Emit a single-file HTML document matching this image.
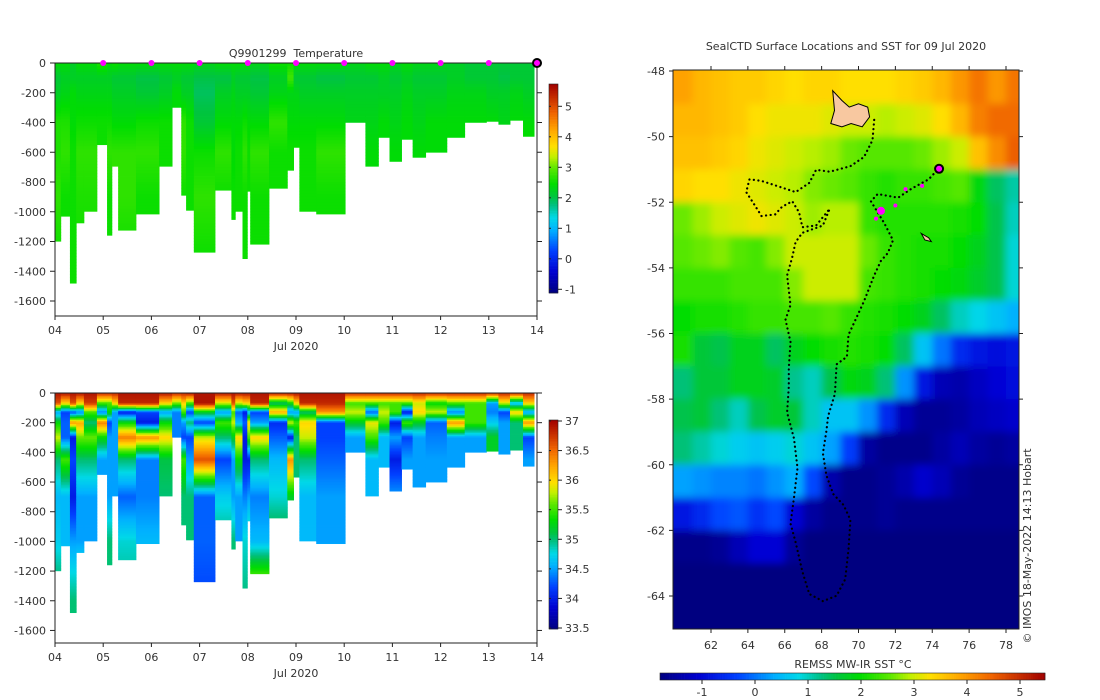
<!DOCTYPE html>
<html><head><meta charset="utf-8">
<style>
html,body{margin:0;padding:0;background:#fff;}
svg{display:block;font-family:"DejaVu Sans","Liberation Sans",sans-serif;}
text{fill:#333;font-size:11px;}
</style></head>
<body>
<svg id="root" width="1100" height="700" viewBox="0 0 1100 700" xmlns="http://www.w3.org/2000/svg">
<defs>
<clipPath id="mapclip"><rect x="673" y="70" width="346" height="559"/></clipPath>
<filter id="blur" x="-5%" y="-5%" width="110%" height="110%"><feGaussianBlur stdDeviation="4"/></filter>
</defs>
<g id="g-temp"></g>
<g id="g-sal"></g>
<g id="g-map"></g>
</svg>
<script>
// ---------- data ----------
const profileStart=[0,0.12,0.31,0.44,0.60,0.87,1.08,1.18,1.31,1.68,2.16,2.43,2.62,2.72,2.88,3.32,3.66,3.74,3.89,3.99,4.05,4.44,4.82,4.95,5.07,5.42,6.02,6.44,6.71,6.94,7.19,7.42,7.69,8.13,8.50,8.95,9.20,9.44,9.71];
const profileEnd=9.94;
const profileMaxDepth=[1198,1030,1480,1075,997,549,1158,694,1124,1015,694,298,889,990,1272,855,1052,997,1315,862,1218,842,721,567,997,1015,399,694,500,661,513,634,600,500,399,392,412,385,493];
const tempDepths=[0,100,200,400,600,900,1300];
const tempValues=[
[2.4,2.1,2.2,2.6,2.6,2.7,2.5],[2.4,2.2,2.3,2.6,2.7,2.5,2.5],[2.2,2.2,2.4,2.4,2.5,2.5,2.5],[2.4,2.2,2.3,2.5,2.7,2.6,2.5],
[2.4,2.2,2.3,2.5,2.7,2.6,2.5],[2.6,2.2,2.3,2.5,2.5,2.5,2.5],[2.4,2.2,2.3,2.5,2.7,2.5,2.5],[2.5,2.1,2.2,2.4,2.7,2.7,2.7],
[2.4,2.1,2.2,2.4,2.7,2.7,2.5],[2.4,2.0,2.1,2.5,2.7,2.5,2.5],[2.4,2.1,2.2,2.5,2.5,2.5,2.5],[2.4,2.2,2.4,2.4,2.4,2.4,2.4],
[2.4,2.1,2.2,2.7,2.7,2.5,2.5],[2.4,2.1,2.2,2.5,2.5,2.5,2.5],[2.3,2.0,1.9,2.1,2.5,2.7,2.5],[2.4,2.0,2.2,2.4,2.7,2.5,2.5],
[2.4,2.2,2.3,2.4,2.4,2.5,2.5],[2.4,2.1,2.2,2.4,2.5,2.5,2.5],[2.4,2.1,2.2,2.5,2.7,2.5,2.5],[2.4,2.1,2.2,2.4,2.5,2.5,2.5],
[2.3,2.0,2.1,2.4,2.7,2.5,2.5],[2.5,2.2,2.3,2.7,2.5,2.5,2.5],[2.5,2.8,2.3,2.4,2.5,2.5,2.5],[2.4,2.1,2.3,2.4,2.5,2.5,2.5],
[2.4,2.1,2.2,2.4,2.5,2.5,2.5],[2.4,2.0,2.2,2.4,2.7,2.5,2.5],[2.3,2.1,2.2,2.3,2.4,2.4,2.4],[2.4,2.1,2.2,2.3,2.4,2.4,2.4],
[2.4,2.2,2.2,2.4,2.4,2.4,2.4],[2.3,2.1,2.2,2.3,2.4,2.4,2.4],[2.4,2.2,2.3,2.4,2.4,2.4,2.4],[2.3,2.1,2.2,2.3,2.4,2.4,2.4],
[2.3,2.1,2.2,2.4,2.4,2.4,2.4],[2.2,2.2,2.3,2.4,2.4,2.4,2.4],[2.1,2.1,2.3,2.4,2.4,2.4,2.4],[2.1,2.1,2.2,2.4,2.4,2.4,2.4],
[2.1,2.0,2.2,2.3,2.4,2.4,2.4],[2.1,2.1,2.3,2.4,2.4,2.4,2.4],[2.1,2.1,2.2,2.4,2.5,2.5,2.5]];
const salDepths=[0,70,130,200,300,450,700,1000,1400];
const salValues=[
[36.9,36.6,34.5,35.3,35.8,35.0,34.6,34.7,35.2],[36.9,36.0,34.2,34.3,34.3,35.5,34.6,34.6,35.0],[36.9,36.6,34.2,36.3,34.0,34.2,34.0,34.5,35.0],
[36.9,36.0,34.4,36.2,35.6,35.0,34.5,34.5,35.2],[36.9,36.7,35.5,35.0,35.6,35.0,34.5,34.5,34.5],[36.8,35.5,34.4,36.4,35.3,34.5,34.5,34.5,34.5],
[36.8,35.5,35.3,34.2,34.5,34.5,34.5,35.0,35.0],[36.8,36.0,34.5,34.5,34.5,34.5,34.5,34.5,34.5],[36.9,36.8,34.0,35.3,36.4,35.0,34.3,34.8,35.0],
[36.9,36.8,34.2,34.0,36.3,34.4,34.4,34.6,34.6],[36.9,36.0,34.5,35.3,36.0,35.1,35.0,35.0,35.0],[36.8,35.6,34.4,34.4,34.4,34.4,34.4,34.4,34.4],
[36.8,36.0,35.5,34.5,34.2,35.5,35.0,35.0,35.0],[36.9,35.5,34.2,35.0,34.2,34.5,35.0,35.0,35.0],[36.9,36.9,35.2,34.2,35.8,36.6,34.3,34.3,34.2],
[36.9,35.8,34.5,35.5,35.0,34.2,34.7,35.0,35.0],[36.9,36.6,35.5,35.8,35.2,34.5,34.5,35.0,35.0],[36.9,35.8,34.3,34.6,36.0,35.3,34.5,34.5,34.5],
[36.9,36.0,34.0,34.3,34.0,34.0,34.4,34.8,35.0],[36.9,36.0,34.6,36.0,35.5,34.0,34.5,35.0,35.0],[36.9,36.8,34.2,34.5,36.0,35.0,34.4,34.6,36.2],
[36.9,35.0,36.2,34.1,34.3,34.6,34.8,35.2,35.0],[36.9,35.3,34.5,35.8,34.0,36.3,35.2,35.0,35.0],[36.9,36.0,34.5,35.5,35.0,35.0,35.0,35.0,35.0],
[36.9,36.8,35.0,36.0,35.8,35.0,34.6,34.6,34.6],[36.9,36.8,36.3,34.2,34.2,34.3,34.5,34.5,35.0],[36.8,35.5,35.8,35.2,34.5,34.5,34.5,34.5,34.5],
[36.8,35.5,34.3,35.9,35.5,34.6,34.6,34.6,34.6],[36.8,35.5,35.8,35.5,34.6,34.6,34.6,34.6,34.6],[36.8,35.5,35.5,34.0,34.5,34.0,34.5,34.5,34.5],
[36.8,35.5,34.0,35.5,34.2,34.5,34.5,34.5,34.5],[36.8,35.8,36.0,35.2,34.5,34.5,34.5,34.5,34.5],[36.8,35.3,35.8,34.3,34.4,34.5,34.5,34.5,34.5],
[36.8,35.5,34.4,36.3,34.5,34.5,34.5,34.5,34.5],[36.8,35.5,35.5,35.5,34.5,34.5,34.5,34.5,34.5],[36.8,34.5,34.4,34.7,35.2,35.2,35.2,35.2,35.2],
[36.8,35.8,34.2,34.5,34.5,34.5,34.5,34.5,34.5],[36.8,34.6,36.0,35.0,35.0,35.0,35.0,35.0,35.0],[36.8,36.0,34.5,36.3,34.2,34.5,34.5,34.5,34.5]];
const markerDays=[1,2,3,4,5,6,7,8,9];
const lastMarkerDay=10;
const dayTickLabels=["04","05","06","07","08","09","10","11","12","13","14"];
const depthTicks=[0,200,400,600,800,1000,1200,1400,1600];
const tempCbTicks=[-1,0,1,2,3,4,5];
const salCbTicks=[33.5,34,34.5,35,35.5,36,36.5,37];
const sstCbTicks=[-1,0,1,2,3,4,5];
const mapLonTicks=[62,64,66,68,70,72,74,76,78];
const mapLatTicks=[-48,-50,-52,-54,-56,-58,-60,-62,-64];
const sstLon0=60;
const sstLat0=-48;
const sstGrid=[
[3.9,3.7,3.6,3.5,3.5,3.4,3.3,3.4,3.4,3.3,3.3,3.3,3.4,3.5,3.7,4.0,4.3,4.0,4.3],
[3.7,3.7,3.6,3.5,3.3,3.2,3.2,3.2,3.1,3.0,3.0,2.9,3.0,3.1,3.3,3.7,4.2,4.4,4.4],
[3.6,3.6,3.5,3.4,3.2,3.1,3.0,2.9,2.8,2.6,2.5,2.5,2.5,2.6,2.8,3.0,3.6,4.1,4.5],
[3.4,3.3,3.3,3.2,3.1,3.0,2.9,2.7,2.6,2.5,2.3,2.2,2.3,2.3,2.4,2.5,1.9,1.4,1.1],
[2.6,2.8,3.0,3.1,3.2,3.1,3.0,2.8,2.9,2.9,2.3,2.2,2.2,2.2,2.2,2.1,2.0,1.5,1.0],
[2.5,2.6,2.7,2.5,2.4,2.7,3.0,3.0,3.0,3.0,2.6,2.3,2.2,2.1,2.1,2.0,1.8,1.5,0.9],
[2.3,2.3,2.3,2.4,2.4,2.4,2.7,3.0,3.0,3.0,2.4,2.3,2.2,2.1,2.0,1.9,1.7,1.5,0.9],
[2.0,2.1,2.1,2.2,2.3,2.3,2.4,2.4,2.5,2.3,2.2,2.1,2.0,1.8,1.4,1.0,0.8,0.6,0.4],
[2.1,1.6,1.5,1.8,1.8,1.4,1.8,2.0,2.1,2.2,2.1,2.0,1.4,0.6,0.0,-0.6,-0.8,-0.9,-0.8],
[1.3,1.6,1.6,1.8,1.8,1.7,1.2,1.0,1.5,1.9,1.8,1.3,0.2,-0.8,-1.3,-1.4,-1.2,-1.0,-0.9],
[1.5,1.6,1.3,1.0,1.5,1.7,1.6,1.0,0.6,0.6,0.2,-0.6,-1.3,-1.6,-1.6,-1.5,-1.3,-1.2,-1.1],
[1.3,1.1,0.9,0.7,0.6,0.7,0.9,0.6,0.3,-0.4,-1.5,-1.7,-1.7,-1.7,-1.5,-1.3,-1.5,-1.6,-1.5],
[0.3,0.2,0.1,0.1,0.0,0.2,0.4,-0.3,-1.4,-1.7,-1.7,-1.6,-1.4,-1.1,-1.3,-1.6,-1.7,-1.7,-1.7],
[-0.8,-0.6,-0.3,-0.2,-0.5,-0.3,-1.0,-1.5,-1.7,-1.7,-1.7,-1.6,-1.7,-1.7,-1.7,-1.7,-1.7,-1.7,-1.7],
[-1.7,-1.7,-1.6,-1.3,-1.0,-1.0,-1.6,-1.8,-1.8,-1.8,-1.8,-1.8,-1.8,-1.8,-1.8,-1.8,-1.8,-1.8,-1.8],
[-1.8,-1.8,-1.8,-1.8,-1.8,-1.8,-1.8,-1.8,-1.8,-1.8,-1.8,-1.8,-1.8,-1.8,-1.8,-1.8,-1.8,-1.8,-1.8],
[-1.8,-1.8,-1.8,-1.8,-1.8,-1.8,-1.8,-1.8,-1.8,-1.8,-1.8,-1.8,-1.8,-1.8,-1.8,-1.8,-1.8,-1.8,-1.8]];
const trackLon=[70.85,70.76,70.30,69.56,68.44,67.70,67.33,66.59,65.67,64.74,64.09,63.91,64.37,64.74,65.48,65.85,66.41,66.78,66.96,67.70,68.44,68.07,66.96,66.59,66.41,66.13,66.31,66.04,66.31,66.22,66.22,66.13,66.50,66.69,66.50,66.31,66.59,66.96,67.33,68.07,68.81,69.28,69.46,69.56,69.19,68.63,68.26,68.07,68.26,68.35,68.72,68.81,69.37,69.46,69.93,70.30,70.85,71.22,71.59,71.87,71.41,71.04,70.67,71.04,72.15,72.89,73.81,74.37];
const trackLat=[-49.49,-50.11,-50.62,-50.90,-51.07,-51.01,-51.41,-51.69,-51.52,-51.35,-51.30,-51.69,-52.09,-52.42,-52.37,-52.14,-51.97,-52.31,-52.76,-52.71,-52.20,-52.71,-52.93,-53.21,-53.67,-54.23,-55.13,-55.58,-56.26,-57.05,-57.62,-58.41,-59.20,-60.10,-61.00,-61.79,-62.36,-63.26,-63.94,-64.16,-63.99,-63.49,-62.58,-61.68,-61.23,-60.89,-60.32,-59.65,-58.97,-58.52,-57.84,-56.94,-56.71,-56.04,-55.47,-55.02,-54.23,-53.78,-53.55,-53.16,-52.65,-52.31,-51.97,-51.75,-51.86,-51.58,-51.30,-50.96];
const recentLon=[71.22,72.55,73.45,72.0,70.95];
const recentLat=[-52.26,-51.6,-51.5,-52.1,-52.5];
const latestLon=74.37, latestLat=-50.98;
const island1Lon=[68.6,69.1,69.5,70.0,70.5,70.6,70.2,69.6,69.1,68.5,68.7];
const island1Lat=[-48.6,-48.9,-49.1,-49.0,-49.1,-49.4,-49.7,-49.6,-49.7,-49.6,-49.2];
const island2Lon=[73.4,73.8,73.95,73.6];
const island2Lat=[-52.95,-53.08,-53.2,-53.15];

// ---------- helpers ----------
const NS="http://www.w3.org/2000/svg";
function mk(parent,tag,attrs,txt){const e=document.createElementNS(NS,tag);for(const k in attrs)e.setAttribute(k,attrs[k]);if(txt!==undefined)e.textContent=txt;parent.appendChild(e);return e;}
const cstops=[[0,[0,0,128]],[0.1,[0,0,208]],[0.2,[0,64,255]],[0.3,[0,176,255]],[0.36,[0,216,232]],[0.42,[0,192,128]],[0.46,[0,196,64]],[0.52,[0,221,0]],[0.6,[96,232,0]],[0.65,[192,240,0]],[0.7,[255,224,0]],[0.78,[255,165,0]],[0.86,[240,100,0]],[0.93,[200,48,0]],[1,[160,0,0]]];
function cmap(t){t=Math.max(0,Math.min(1,t));for(let i=1;i<cstops.length;i++){if(t<=cstops[i][0]){const a=cstops[i-1],b=cstops[i],f=(t-a[0])/(b[0]-a[0]);const c=a[1].map((v,j)=>Math.round(v+(b[1][j]-v)*f));return `rgb(${c[0]},${c[1]},${c[2]})`;}}return 'rgb(160,0,0)';}
function interp(ds,vs,z){if(z<=ds[0])return vs[0];for(let i=1;i<ds.length;i++){if(z<=ds[i]){const f=(z-ds[i-1])/(ds[i]-ds[i-1]);return vs[i-1]+(vs[i]-vs[i-1])*f;}}return vs[vs.length-1];}
const dayToX=d=>55+d*48.2;

function sectionChart(g,y0,pxPerM,bottom,depthArr,valArr,vmin,vmax,step,cbTop,cbBot,cbTicks,cbValToY,cbName,withMarkers,withTitle){
  const L=55,R=537;
  const data=mk(g,'g',{});
  
  
  for(let k=0;k<profileStart.length;k++){
    const x0=dayToX(profileStart[k]);
    const x1=dayToX(k+1<profileStart.length?profileStart[k+1]:profileEnd);
    const col=mk(data,'g',{});
    
    
    const zmax=profileMaxDepth[k];
    for(let z=0;z<zmax;z+=step){
      const z2=Math.min(z+step,zmax);
      const v=interp(depthArr,valArr[k],z+step/2);
      mk(col,'rect',{x:x0.toFixed(2),y:(y0+z*pxPerM).toFixed(2),width:(x1-x0+0.4).toFixed(2),height:((z2-z)*pxPerM+0.4).toFixed(2),fill:cmap((v-vmin)/(vmax-vmin))});
    }
  }
  const ax=mk(g,'g',{stroke:'#222','stroke-width':1,fill:'none'});
  
  
  mk(ax,'rect',{x:L,y:y0,width:R-L,height:bottom-y0});
  depthTicks.forEach(d=>{
    const y=y0+d*pxPerM;
    mk(ax,'line',{x1:L-5,x2:L,y1:y,y2:y});
    mk(ax,'line',{x1:R,x2:R+5,y1:y,y2:y});
    const t=mk(g,'text',{x:L-9,y:y+4,'text-anchor':'end'},d===0?'0':'-'+d);
    
    
  });
  dayTickLabels.forEach((lab,i)=>{
    const x=dayToX(i);
    mk(ax,'line',{x1:x,x2:x,y1:bottom,y2:bottom+4});
    const t=mk(g,'text',{x:x,y:bottom+18,'text-anchor':'middle'},lab);
    
    
  });
  const xl=mk(g,'text',{x:296,y:bottom+34,'text-anchor':'middle'},'Jul 2020');
  
  
  const cb=mk(g,'g',{});
  
  
  const n=120;
  for(let i=0;i<n;i++){
    const yA=cbTop+(cbBot-cbTop)*i/n, yB=cbTop+(cbBot-cbTop)*(i+1)/n;
    const t=1-(i+0.5)/n;
    mk(cb,'rect',{x:549,y:yA.toFixed(2),width:9,height:(yB-yA+0.3).toFixed(2),fill:cmap(t)});
  }
  mk(cb,'rect',{x:549,y:cbTop,width:9,height:cbBot-cbTop,fill:'none',stroke:'#222','stroke-width':0.6});
  cbTicks.forEach(v=>{
    const y=cbValToY(v);
    mk(cb,'line',{x1:558,x2:562,y1:y,y2:y,stroke:'#222'});
    mk(cb,'line',{x1:549,x2:551,y1:y,y2:y,stroke:'#222'});
    const t=mk(cb,'text',{x:565,y:y+4},String(v));
    
    
  });
  if(withMarkers){
    markerDays.forEach(d=>{
      const c=mk(g,'circle',{cx:dayToX(d),cy:y0,r:3,fill:'#ff00ff'});
      
      
    });
    const c=mk(g,'circle',{cx:dayToX(lastMarkerDay),cy:y0,r:4,fill:'#ff00ff',stroke:'#000','stroke-width':2});
    
    
  }
  if(withTitle){
    const t=mk(g,'text',{x:296,y:57,'text-anchor':'middle','xml:space':'preserve'},'Q9901299\u00A0\u00A0Temperature');
    
    
  }
}
sectionChart(document.getElementById('g-temp'),63,0.14875,316,tempDepths,tempValues,-1.13,5.73,20,84,293,tempCbTicks,v=>106.3-(v-5)*30.5,'temperature-colorbar',true,true);
sectionChart(document.getElementById('g-sal'),393,0.1484,643,salDepths,salValues,33.5,37,10,420,629,salCbTicks,v=>421-(v-37)*59.14,'salinity-colorbar',false,false);

// ---------- map ----------
const lonToX=lon=>711+(lon-62)*18.4375;
const latToY=lat=>71+(-48-lat)*32.8125;
const sstMin=-1.79,sstMax=5.47;
const gm=document.getElementById('g-map');
const clipG=mk(gm,'g',{'clip-path':'url(#mapclip)'});
mk(clipG,'rect',{x:673,y:70,width:346,height:559,fill:'#000080'});
const hm=mk(clipG,'g',{filter:'url(#blur)'});


sstGrid.forEach((row,j)=>{
  row.forEach((v,i)=>{
    const lonA=sstLon0+i-(i===0?1:0), lonB=sstLon0+i+1+(i===row.length-1?1:0);
    const latA=sstLat0-j+(j===0?1:0), latB=sstLat0-j-1-(j===sstGrid.length-1?1:0);
    const x=lonToX(lonA),y=latToY(latA);
    mk(hm,'rect',{x:x.toFixed(1),y:y.toFixed(1),width:(lonToX(lonB)-x+0.5).toFixed(1),height:(latToY(latB)-y+0.5).toFixed(1),fill:cmap((v-sstMin)/(sstMax-sstMin))});
  });
});
const isl1=mk(clipG,'polygon',{points:island1Lon.map((l,i)=>lonToX(l).toFixed(1)+','+latToY(island1Lat[i]).toFixed(1)).join(' '),fill:'#f8c8a0',stroke:'#000','stroke-width':1});


const isl2=mk(clipG,'polygon',{points:island2Lon.map((l,i)=>lonToX(l).toFixed(1)+','+latToY(island2Lat[i]).toFixed(1)).join(' '),fill:'#f8c8a0',stroke:'#000','stroke-width':1});


const tr=mk(clipG,'polyline',{points:trackLon.map((l,i)=>lonToX(l).toFixed(1)+','+latToY(trackLat[i]).toFixed(1)).join(' '),fill:'none',stroke:'#000','stroke-width':2.2,'stroke-dasharray':'0.1 4.5','stroke-linecap':'round'});


recentLon.forEach((l,i)=>{
  const c=mk(clipG,'circle',{cx:lonToX(l),cy:latToY(recentLat[i]),r:i===0?4:2,fill:'#ff00ff'});
  
  
});
const lc=mk(clipG,'circle',{cx:lonToX(latestLon),cy:latToY(latestLat),r:4,fill:'#ff00ff',stroke:'#000','stroke-width':2});


const mf=mk(gm,'g',{stroke:'#222','stroke-width':1,fill:'none'});


mk(mf,'rect',{x:673,y:70,width:346,height:559});
mapLonTicks.forEach(l=>{
  const x=lonToX(l);
  mk(mf,'line',{x1:x,x2:x,y1:66,y2:70});
  mk(mf,'line',{x1:x,x2:x,y1:629,y2:633});
  const t=mk(gm,'text',{x:x,y:649,'text-anchor':'middle'},String(l));
  
  
});
mapLatTicks.forEach(l=>{
  const y=latToY(l);
  mk(mf,'line',{x1:669,x2:673,y1:y,y2:y});
  mk(mf,'line',{x1:1019,x2:1023,y1:y,y2:y});
  const t=mk(gm,'text',{x:665,y:y+4,'text-anchor':'end'},String(l));
  
  
});
const mt=mk(gm,'text',{x:846,y:50,'text-anchor':'middle'},'SealCTD Surface Locations and SST for 09 Jul 2020');


const cr=mk(gm,'text',{x:0,y:0,'text-anchor':'middle',transform:'translate(1031,546) rotate(-90)','font-size':'10px'},'© IMOS 18-May-2022 14:13 Hobart');


const scb=mk(gm,'g',{});


const sv=v=>702+(v+1)*53;
for(let i=0;i<160;i++){
  const xA=660+385*i/160, xB=660+385*(i+1)/160;
  mk(scb,'rect',{x:xA.toFixed(2),y:673,width:(xB-xA+0.3).toFixed(2),height:7,fill:cmap((i+0.5)/160)});
}
mk(scb,'rect',{x:660,y:673,width:385,height:7,fill:'none',stroke:'#222','stroke-width':0.6});
sstCbTicks.forEach(v=>{
  const x=sv(v);
  mk(scb,'line',{x1:x,x2:x,y1:680,y2:684,stroke:'#222'});
  const t=mk(scb,'text',{x:x,y:696,'text-anchor':'middle'},String(v));
  
  
});
const st=mk(gm,'text',{x:853,y:668,'text-anchor':'middle'},'REMSS MW-IR SST °C');


</script>
</body></html>
